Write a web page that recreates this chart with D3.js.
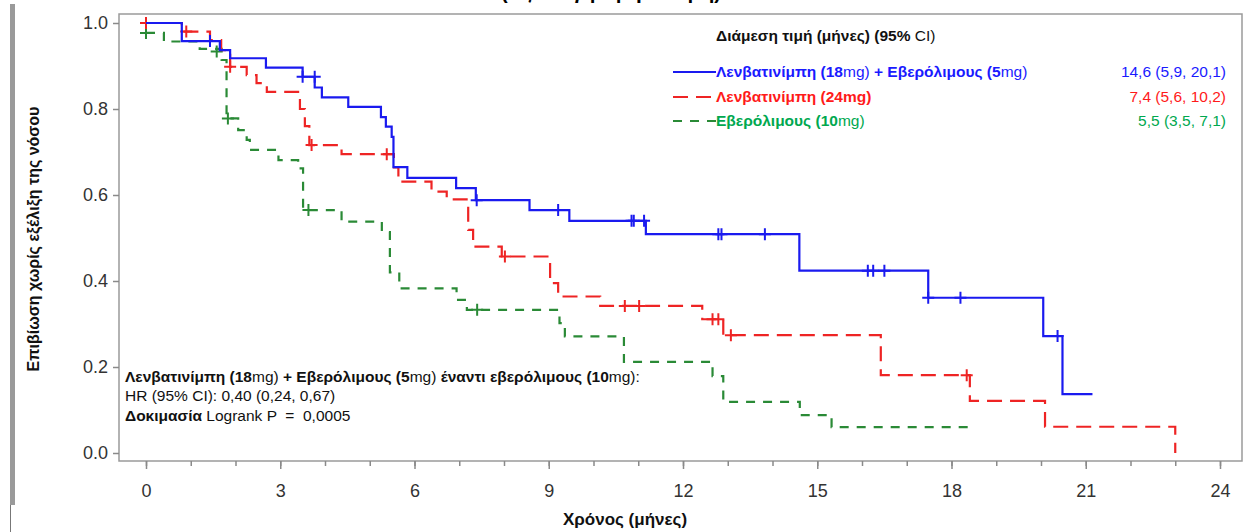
<!DOCTYPE html>
<html><head><meta charset="utf-8">
<script src="https://cdn.jsdelivr.net/npm/d3@7"></script>
<style>
body{margin:0;background:#fff}
svg{display:block}
text{font-family:"Liberation Sans",Arial,Helvetica,sans-serif}
</style>
</head><body>
<svg id="chart" width="1246" height="532"></svg>
<script>
// ---------- data ----------
const xTickValues = [0, 3, 6, 9, 12, 15, 18, 21, 24];
const xMinorTicks = d3.range(0, 25, 1);
const yTickValues = [0.0, 0.2, 0.4, 0.6, 0.8, 1.0];

// Lenvatinib (18mg) + Everolimus (5mg): [time (months), survival]
const blueSteps = [[0,1.0],[0.8,0.958],[1.65,0.937],[1.88,0.918],[2.68,0.896],[3.5,0.875],[3.77,0.85],[3.93,0.827],
  [4.52,0.805],[5.25,0.781],[5.36,0.759],[5.49,0.735],[5.53,0.665],[5.84,0.64],[6.93,0.616],[7.37,0.588],
  [8.57,0.565],[9.46,0.54],[11.17,0.509],[14.6,0.424],[17.48,0.361],[20.05,0.272],[20.48,0.137],[21.15,0.137]];
const blueCensored = [[1.43,0.958],[3.5,0.875],[3.77,0.875],[7.39,0.588],[9.21,0.565],[10.85,0.54],[10.9,0.54],
  [11.13,0.54],[12.79,0.509],[12.86,0.509],[13.83,0.509],[16.13,0.424],[16.25,0.424],[16.5,0.424],
  [17.48,0.361],[18.2,0.361],[20.37,0.272]];

// Lenvatinib (24mg)
const redSteps = [[0,1.0],[0.8,0.98],[1.43,0.96],[1.68,0.937],[1.88,0.898],[2.25,0.879],[2.47,0.86],[2.7,0.84],
  [3.44,0.8],[3.55,0.76],[3.65,0.716],[4.37,0.695],[5.54,0.664],[5.64,0.631],[6.38,0.608],[6.72,0.59],
  [7.2,0.519],[7.31,0.48],[7.95,0.457],[9.03,0.395],[9.21,0.364],[10.15,0.342],[12.43,0.311],[12.9,0.274],
  [16.42,0.181],[18.41,0.121],[20.09,0.061],[23.0,0.0]];
const redCensored = [[0,1.0],[0.9,0.98],[1.88,0.898],[3.7,0.716],[5.38,0.695],[8.02,0.457],[10.7,0.342],
  [11.02,0.342],[12.66,0.311],[12.79,0.311],[13.07,0.274],[18.34,0.181]];

// Everolimus (10mg)
const greenSteps = [[0,0.977],[0.4,0.957],[1.2,0.94],[1.69,0.914],[1.8,0.778],[2.06,0.751],[2.25,0.728],[2.32,0.705],
  [2.96,0.681],[3.4,0.662],[3.51,0.565],[4.37,0.538],[5.27,0.514],[5.45,0.42],[5.66,0.383],[6.94,0.356],
  [7.17,0.333],[9.24,0.302],[9.36,0.271],[10.68,0.212],[12.66,0.179],[12.9,0.119],[14.61,0.088],[15.32,0.06],[18.41,0.06]];
const greenCensored = [[0,0.977],[1.58,0.934],[1.83,0.778],[3.63,0.565],[7.4,0.333]];

const seriesNames = ["Λενβατινίμπη (18mg) + Εβερόλιμους (5mg)", "Λενβατινίμπη (24mg)", "Εβερόλιμους (10mg)"];
const medianLabels = ["14,6 (5,9, 20,1)", "7,4 (5,6, 10,2)", "5,5 (3,5, 7,1)"];

// ---------- drawing ----------
const svg = d3.select("#chart");
const W = 1246, H = 532;
const frame = {left: 119, top: 14, right: 1242, bottom: 461};

const x = d3.scaleLinear().domain([0, 24]).range([146, 1220]);
const y = d3.scaleLinear().domain([0, 1]).range([453, 23]);

// decorative left bar
svg.append("rect").attr("x", 10).attr("y", 4).attr("width", 5).attr("height", 501).attr("fill", "#9a9a9a");
svg.append("line").attr("x1", 10.5).attr("x2", 10.5).attr("y1", 505).attr("y2", H).attr("stroke", "#777").attr("stroke-width", 1);

// title (cropped at the top edge, as in the reference)
svg.append("text").attr("x", 611).attr("y", -1).attr("text-anchor", "middle")
  .attr("font-size", 20).attr("font-weight", "bold").attr("fill", "#000")
  .text("(Αξιολόγηση ερευνητή)");

// frame
svg.append("rect").attr("x", frame.left).attr("y", frame.top)
  .attr("width", frame.right - frame.left).attr("height", frame.bottom - frame.top)
  .attr("fill", "none").attr("stroke", "#9a9a9a").attr("stroke-width", 1.5);

// x axis (minor + major)
const gxMinor = svg.append("g").attr("transform", `translate(0,${frame.bottom})`)
  .call(d3.axisBottom(x).tickValues(xMinorTicks).tickSize(5).tickFormat(""));
const gx = svg.append("g").attr("transform", `translate(0,${frame.bottom})`)
  .call(d3.axisBottom(x).tickValues(xTickValues).tickSize(8).tickPadding(15).tickFormat(d3.format("d")));
[gxMinor, gx].forEach(g => {
  g.select(".domain").remove();
  g.selectAll("line").attr("stroke", "#8a8a8a").attr("stroke-width", 1.5);
});
gx.selectAll("text").attr("font-size", 18).attr("fill", "#333").attr("font-family", '"Liberation Sans",Arial,sans-serif');

// y axis
const gy = svg.append("g").attr("transform", `translate(${frame.left},0)`)
  .call(d3.axisLeft(y).tickValues(yTickValues).tickSize(6).tickPadding(5).tickFormat(d3.format(".1f")));
gy.select(".domain").remove();
gy.selectAll("line").attr("stroke", "#8a8a8a").attr("stroke-width", 1.5);
gy.selectAll("text").attr("font-size", 18).attr("fill", "#333").attr("font-family", '"Liberation Sans",Arial,sans-serif');

// axis titles
svg.append("text").attr("x", 625).attr("y", 525).attr("text-anchor", "middle")
  .attr("font-size", 17).attr("font-weight", "bold").attr("fill", "#111").text("Χρόνος (μήνες)");
svg.append("text").attr("transform", "translate(39,239) rotate(-90)").attr("text-anchor", "middle")
  .attr("font-size", 16).attr("font-weight", "bold").attr("fill", "#111").text("Επιβίωση χωρίς εξέλιξη της νόσου");

// curves
const series = [
  {steps: blueSteps, cens: blueCensored, color: "#1a1aef", dash: null},
  {steps: redSteps, cens: redCensored, color: "#ee2424", dash: "15,8"},
  {steps: greenSteps, cens: greenCensored, color: "#2a8a36", dash: "9,8"}
];
const line = d3.line().x(d => x(d[0])).y(d => y(d[1])).curve(d3.curveStepAfter);
const plot = svg.append("g");
series.slice().reverse().forEach(s => {
  plot.append("path").datum(s.steps).attr("d", line)
    .attr("fill", "none").attr("stroke", s.color).attr("stroke-width", 2.2)
    .attr("stroke-dasharray", s.dash);
  plot.selectAll(null).data(s.cens).enter().append("path")
    .attr("transform", d => `translate(${x(d[0])},${y(d[1])})`)
    .attr("d", "M-6,0H6M0,-6V6")
    .attr("stroke", s.color).attr("stroke-width", 2).attr("fill", "none");
});

// legend
const legX = 716;
const FS = 15.5;
svg.append("text").attr("x", legX).attr("y", 41).attr("font-size", FS).attr("fill", "#111")
  .call(t => {
    t.append("tspan").attr("font-weight", "bold").text("Διάμεση τιμή (μήνες) (95% ");
    t.append("tspan").text("CI)");
  });
const legendColors = ["#1a1aff", "#ff1a1a", "#00a84f"];
const legendLineColors = ["#1a1aef", "#ee2424", "#2a8a36"];
const legendParts = [
  [["Λενβατινίμπη (18", true], ["mg)", false], [" + Εβερόλιμους (5", true], ["mg)", false]],
  [["Λενβατινίμπη (24mg)", true]],
  [["Εβερόλιμους (10", true], ["mg)", false]]
];
const legRowsY = [72, 97, 121];
seriesNames.forEach((name, i) => {
  const yy = legRowsY[i];
  svg.append("line").attr("x1", 673).attr("x2", legX).attr("y1", yy).attr("y2", yy)
    .attr("stroke", legendLineColors[i]).attr("stroke-width", 2.2)
    .attr("stroke-dasharray", series[i].dash);
  const t = svg.append("text").attr("x", legX).attr("y", yy + 5).attr("font-size", FS).attr("fill", legendColors[i]);
  legendParts[i].forEach(p => t.append("tspan").attr("font-weight", p[1] ? "bold" : "normal").text(p[0]));
  svg.append("text").attr("x", 1226).attr("y", yy + 5).attr("text-anchor", "end")
    .attr("font-size", FS).attr("fill", legendColors[i]).text(medianLabels[i]);
});

// annotation
const ann = [
  [["Λενβατινίμπη (18", true], ["mg)", false], [" + Εβερόλιμους (5", true], ["mg)", false], [" έναντι εβερόλιμους (10", true], ["mg):", false]],
  [["HR (95% CI): 0,40 (0,24, 0,67)", false]],
  [["Δοκιμασία", true], [" Logrank P  =  0,0005", false]]
];
const annY = [382, 401, 421];
ann.forEach((parts, i) => {
  const t = svg.append("text").attr("x", 125).attr("y", annY[i]).attr("font-size", FS).attr("fill", "#111")
    .style("white-space", "pre");
  parts.forEach(p => t.append("tspan").attr("font-weight", p[1] ? "bold" : "normal").text(p[0]));
});
</script>
</body></html>
